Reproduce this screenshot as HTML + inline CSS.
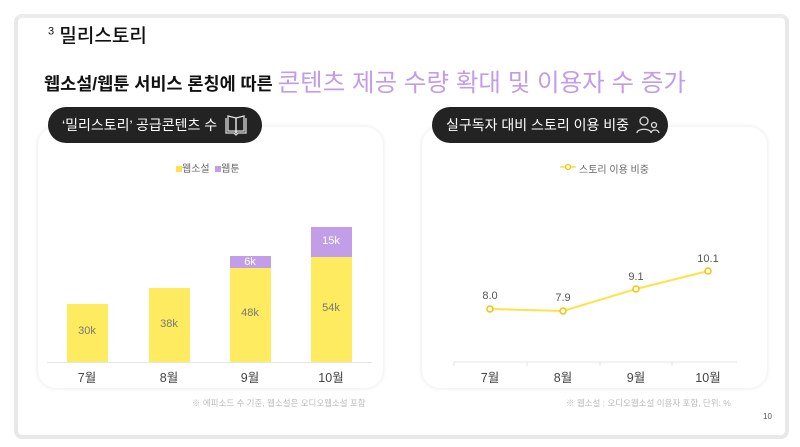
<!DOCTYPE html>
<html><head><meta charset="utf-8"><style>
body{margin:0;width:800px;height:447px;background:#fff;position:relative;overflow:hidden;font-family:"Liberation Sans","Noto Sans CJK KR",sans-serif}
.a{position:absolute;white-space:nowrap}
.frame{position:absolute;left:14px;top:14px;width:767px;height:417px;border:4px solid #e8e8e9;border-radius:8px;border-top-color:#ececec}
.card{position:absolute;top:127px;width:345px;height:261px;border-radius:18px;background:#fff;box-shadow:0 0 4px 1px rgba(0,0,0,0.07)}
.pill{position:absolute;top:107px;height:36px;background:#232323;border-radius:18px;color:#fff;font-size:14px;line-height:36px;padding-left:14px;box-sizing:border-box}
.bar{position:absolute;width:41px}
.y{background:#ffeb5f}.p{background:#c29de8}
.lbl{position:absolute;font-size:11px;color:#777;text-align:center;width:60px}
.m{position:absolute;font-size:12.5px;color:#444;text-align:center;width:60px;top:367px}
</style></head><body>
<div class="frame"></div>
<div class="a" style="left:48px;top:21px;font-size:19px;color:#111;font-weight:500"><sup style="font-size:11px">3</sup> 밀리스토리</div>
<div class="a" style="left:44px;top:63px;font-size:17.5px;font-weight:bold;color:#111">웹소설/웹툰 서비스 론칭에 따른 <span style="font-size:24.5px;color:#c39ce8;font-weight:normal;position:relative;top:1px">콘텐츠 제공 수량 확대 및 이용자 수 증가</span></div>

<div class="card" style="left:38px"></div>
<div class="card" style="left:422px"></div>
<div class="pill" style="left:48px;width:214px">‘밀리스토리’ 공급콘텐츠 수
<svg style="position:absolute;left:176px;top:7px" width="24" height="22" viewBox="0 0 24 22" fill="none" stroke="#ddd" stroke-width="1.3"><path d="M2 4v15h8l2 2 2-2h8V4"/><path d="M4 2v15h7l1 2V4z"/><path d="M20 2v15h-7l-1 2V4z"/></svg></div>
<div class="pill" style="left:432px;width:236px">실구독자 대비 스토리 이용 비중
<svg style="position:absolute;left:204px;top:9px" width="24" height="18" viewBox="0 0 24 18" fill="none" stroke="#ddd" stroke-width="1.3"><circle cx="8" cy="5" r="4"/><path d="M1 17c0-5 14-5 14 0"/><circle cx="18" cy="9" r="2.5"/><path d="M15 17c1-4 7-4 8 0"/></svg></div>

<div class="a" style="left:176px;top:160px;font-size:10px;color:#666"><span style="display:inline-block;width:6px;height:6px;background:#ffe14d"></span>웹소설 &nbsp;<span style="display:inline-block;width:6px;height:6px;background:#c29de8"></span>웹툰</div>
<div class="bar y" style="left:67px;top:304px;height:59px"></div>
<div class="bar y" style="left:149px;top:288px;height:75px"></div>
<div class="bar y" style="left:230px;top:268px;height:95px"></div>
<div class="bar p" style="left:230px;top:256px;height:12px"></div>
<div class="bar y" style="left:311px;top:257px;height:106px"></div>
<div class="bar p" style="left:311px;top:227px;height:30px"></div>
<div class="a" style="left:47px;top:362px;width:325px;height:1px;background:#e6e6e6"></div>
<div class="lbl" style="left:57px;top:325px">30k</div>
<div class="lbl" style="left:139px;top:318px">38k</div>
<div class="lbl" style="left:220px;top:307px">48k</div>
<div class="lbl" style="left:220px;top:256px;color:#fff">6k</div>
<div class="lbl" style="left:301px;top:302px">54k</div>
<div class="lbl" style="left:301px;top:235px;color:#fff">15k</div>
<div class="m" style="left:57px">7월</div><div class="m" style="left:139px">8월</div><div class="m" style="left:220px">9월</div><div class="m" style="left:301px">10월</div>
<div class="a" style="left:192px;top:397px;font-size:8.5px;color:#bbb">※ 에피소드 수 기준, 웹소설은 오디오웹소설 포함</div>

<svg class="a" style="left:0;top:0" width="800" height="447">
<line x1="560" y1="167" x2="576" y2="167" stroke="#ffe14d" stroke-width="1.5"/><circle cx="568" cy="167" r="2.5" fill="#fff" stroke="#f5c400" stroke-width="1.3"/>
<line x1="454" y1="362" x2="737" y2="362" stroke="#e6e6e6"/>
<g stroke="#e6e6e6"><line x1="454" y1="362" x2="454" y2="366"/><line x1="527" y1="362" x2="527" y2="366"/><line x1="600" y1="362" x2="600" y2="366"/><line x1="672" y1="362" x2="672" y2="366"/></g>
<polyline points="490,309 563,311 636,289 708,271" fill="none" stroke="#ffe14d" stroke-width="2"/>
<g fill="#fff" stroke="#f5c400" stroke-width="1.5"><circle cx="490" cy="309" r="3"/><circle cx="563" cy="311" r="3"/><circle cx="636" cy="289" r="3"/><circle cx="708" cy="271" r="3"/></g>
<g font-size="11" fill="#555" text-anchor="middle" font-family="Liberation Sans, sans-serif"><text x="490" y="299">8.0</text><text x="563" y="301">7.9</text><text x="636" y="280">9.1</text><text x="708" y="262">10.1</text></g>
</svg>
<div class="a" style="left:579px;top:161px;font-size:10px;color:#666">스토리 이용 비중</div>
<div class="m" style="left:460px">7월</div><div class="m" style="left:533px">8월</div><div class="m" style="left:606px">9월</div><div class="m" style="left:678px">10월</div>
<div class="a" style="left:566px;top:397px;font-size:8.5px;color:#bbb">※ 웹소설 : 오디오웹소설 이용자 포함, 단위: %</div>
<div class="a" style="left:763px;top:412px;font-size:8px;color:#555">10</div>
</body></html>
